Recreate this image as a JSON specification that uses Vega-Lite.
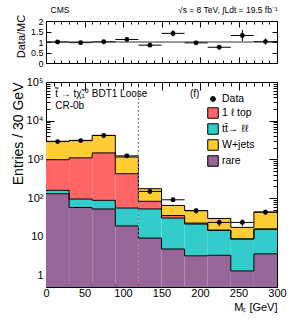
{
 "$schema": "https://vega.github.io/schema/vega-lite/v6.json",
 "background": "white",
 "padding": {"left": 10, "top": 5, "right": 5, "bottom": 5},
 "spacing": 6,
 "config": {
  "font": "Liberation Sans",
  "view": {"stroke": "black", "strokeWidth": 1},
  "axis": {"grid": false, "domain": false, "labelFont": "Liberation Sans", "titleFont": "Liberation Sans", "titleFontWeight": "normal", "labelColor": "black", "titleColor": "black", "tickColor": "black", "tickWidth": 1, "labelOverlap": false, "labelFlush": false},
  "text": {"font": "Liberation Sans", "color": "black"}
 },
 "datasets": {
  "one": [{}],
  "ratio": [
   {"start": 0, "end": 30, "center": 15, "ratio": 1.0, "low": 0.98, "high": 1.02},
   {"start": 30, "end": 60, "center": 45, "ratio": 0.97, "low": 0.95, "high": 0.99},
   {"start": 60, "end": 90, "center": 75, "ratio": 1.01, "low": 0.99, "high": 1.03},
   {"start": 90, "end": 120, "center": 105, "ratio": 1.12, "low": 1.08, "high": 1.16},
   {"start": 120, "end": 150, "center": 135, "ratio": 0.85, "low": 0.78, "high": 0.92},
   {"start": 150, "end": 180, "center": 165, "ratio": 1.41, "low": 1.26, "high": 1.56},
   {"start": 180, "end": 210, "center": 195, "ratio": 0.96, "low": 0.86, "high": 1.06},
   {"start": 210, "end": 240, "center": 225, "ratio": 0.75, "low": 0.65, "high": 0.85},
   {"start": 240, "end": 270, "center": 255, "ratio": 1.31, "low": 1.04, "high": 1.58},
   {"start": 270, "end": 300, "center": 285, "ratio": 1.02, "low": 0.87, "high": 1.17}
  ],
  "obs": [
   {"start": 0, "end": 30, "center": 15, "events": 2880, "low": 2826, "high": 2934},
   {"start": 30, "end": 60, "center": 45, "events": 3050, "low": 2995, "high": 3105},
   {"start": 60, "end": 90, "center": 75, "events": 4150, "low": 4086, "high": 4214},
   {"start": 90, "end": 120, "center": 105, "events": 1230, "low": 1195, "high": 1265},
   {"start": 120, "end": 150, "center": 135, "events": 148, "low": 136, "high": 160},
   {"start": 150, "end": 180, "center": 165, "events": 90, "low": 80.5, "high": 99.5},
   {"start": 180, "end": 210, "center": 195, "events": 47, "low": 40, "high": 54},
   {"start": 210, "end": 240, "center": 225, "events": 23.4, "low": 18.6, "high": 28.2},
   {"start": 240, "end": 270, "center": 255, "events": 23.4, "low": 18.6, "high": 28.2},
   {"start": 270, "end": 300, "center": 285, "events": 43, "low": 36.5, "high": 49.5}
  ],
  "mc": [
   {"process": "rare", "start": 0, "end": 30, "events": 129},
   {"process": "rare", "start": 30, "end": 60, "events": 57},
   {"process": "rare", "start": 60, "end": 90, "events": 52},
   {"process": "rare", "start": 90, "end": 120, "events": 19},
   {"process": "rare", "start": 120, "end": 150, "events": 9.2},
   {"process": "rare", "start": 150, "end": 180, "events": 4.8},
   {"process": "rare", "start": 180, "end": 210, "events": 3.2},
   {"process": "rare", "start": 210, "end": 240, "events": 3.3},
   {"process": "rare", "start": 240, "end": 270, "events": 1.3},
   {"process": "rare", "start": 270, "end": 300, "events": 3.6},
   {"process": "tt̄→ ℓℓ", "start": 0, "end": 30, "events": 29},
   {"process": "tt̄→ ℓℓ", "start": 30, "end": 60, "events": 37},
   {"process": "tt̄→ ℓℓ", "start": 60, "end": 90, "events": 35},
   {"process": "tt̄→ ℓℓ", "start": 90, "end": 120, "events": 36},
   {"process": "tt̄→ ℓℓ", "start": 120, "end": 150, "events": 43},
   {"process": "tt̄→ ℓℓ", "start": 150, "end": 180, "events": 25.5},
   {"process": "tt̄→ ℓℓ", "start": 180, "end": 210, "events": 18},
   {"process": "tt̄→ ℓℓ", "start": 210, "end": 240, "events": 11.2},
   {"process": "tt̄→ ℓℓ", "start": 240, "end": 270, "events": 7.4},
   {"process": "tt̄→ ℓℓ", "start": 270, "end": 300, "events": 12},
   {"process": "1 ℓ top", "start": 0, "end": 30, "events": 820},
   {"process": "1 ℓ top", "start": 30, "end": 60, "events": 1000},
   {"process": "1 ℓ top", "start": 60, "end": 90, "events": 1380},
   {"process": "1 ℓ top", "start": 90, "end": 120, "events": 370},
   {"process": "1 ℓ top", "start": 120, "end": 150, "events": 30},
   {"process": "1 ℓ top", "start": 150, "end": 180, "events": 5},
   {"process": "1 ℓ top", "start": 180, "end": 210, "events": 1.3},
   {"process": "1 ℓ top", "start": 210, "end": 240, "events": 0.3},
   {"process": "1 ℓ top", "start": 240, "end": 270, "events": 0.1},
   {"process": "1 ℓ top", "start": 270, "end": 300, "events": 0.2},
   {"process": "W+jets", "start": 0, "end": 30, "events": 1950},
   {"process": "W+jets", "start": 30, "end": 60, "events": 2000},
   {"process": "W+jets", "start": 60, "end": 90, "events": 2700},
   {"process": "W+jets", "start": 90, "end": 120, "events": 725},
   {"process": "W+jets", "start": 120, "end": 150, "events": 92},
   {"process": "W+jets", "start": 150, "end": 180, "events": 29},
   {"process": "W+jets", "start": 180, "end": 210, "events": 25},
   {"process": "W+jets", "start": 210, "end": 240, "events": 14.8},
   {"process": "W+jets", "start": 240, "end": 270, "events": 8.6},
   {"process": "W+jets", "start": 270, "end": 300, "events": 27.7}
  ]
 },
 "vconcat": [
  {
   "width": 231,
   "height": 42,
   "layer": [
    {
     "data": {"name": "ratio"},
     "mark": {"type": "rule", "color": "black", "strokeWidth": 1},
     "encoding": {
      "x": {"field": "start", "type": "quantitative", "scale": {"domain": [0, 300], "nice": false},
       "axis": {"orient": "bottom", "values": [0,10,20,30,40,50,60,70,80,90,100,110,120,130,140,150,160,170,180,190,200,210,220,230,240,250,260,270,280,290,300], "labels": false, "title": null, "tickSize": {"condition": {"test": "datum.value % 50 == 0", "value": -6}, "value": -3}}},
      "x2": {"field": "end"},
      "y": {"field": "ratio", "type": "quantitative", "scale": {"domain": [0, 2], "nice": false},
       "axis": {"orient": "left", "values": [0, 0.5, 1, 1.5, 2], "format": "~g", "labelFontSize": 9, "labelPadding": 8, "tickSize": -5, "title": "Data/MC", "titleFontSize": 11, "titleX": -20, "titleY": 15}}
     }
    },
    {
     "data": {"name": "ratio"},
     "mark": {"type": "rule", "color": "black", "strokeWidth": 1},
     "encoding": {
      "x": {"field": "center", "type": "quantitative",
       "axis": {"orient": "top", "values": [0,10,20,30,40,50,60,70,80,90,100,110,120,130,140,150,160,170,180,190,200,210,220,230,240,250,260,270,280,290,300], "labels": false, "title": null, "tickSize": {"condition": {"test": "datum.value % 50 == 0", "value": -6}, "value": -3}}},
      "y": {"field": "low", "type": "quantitative",
       "axis": {"orient": "right", "values": [0, 0.5, 1, 1.5, 2], "labels": false, "title": null, "tickSize": -5}},
      "y2": {"field": "high"}
     }
    },
    {
     "data": {"name": "one"},
     "mark": {"type": "rule", "color": "#333333", "strokeWidth": 1},
     "encoding": {"y": {"datum": 1, "type": "quantitative", "axis": null}}
    },
    {
     "data": {"name": "ratio"},
     "mark": {"type": "point", "shape": "circle", "filled": true, "color": "black", "size": 24, "opacity": 1},
     "encoding": {
      "x": {"field": "center", "type": "quantitative", "axis": null},
      "y": {"field": "ratio", "type": "quantitative", "axis": null}
     }
    },
    {
     "data": {"name": "one"},
     "mark": {"type": "text", "text": "CMS", "align": "left", "baseline": "middle", "fontSize": 8.5, "dy": -11},
     "encoding": {
      "x": {"datum": 6, "type": "quantitative", "axis": null},
      "y": {"datum": 2, "type": "quantitative", "axis": null}
     }
    },
    {
     "data": {"name": "one"},
     "mark": {"type": "text", "text": "√s = 8 TeV,  ∫Ldt = 19.5 fb⁻¹", "align": "right", "baseline": "middle", "fontSize": 8.5, "dy": -11},
     "encoding": {
      "x": {"datum": 301, "type": "quantitative", "axis": null},
      "y": {"datum": 2, "type": "quantitative", "axis": null}
     }
    }
   ],
   "resolve": {"axis": {"x": "independent", "y": "independent"}}
  },
  {
   "width": 231,
   "height": 205,
   "layer": [
    {
     "data": {"name": "mc"},
     "transform": [
      {"calculate": "indexof(['rare', 'tt̄→ ℓℓ', '1 ℓ top', 'W+jets'], datum.process)", "as": "stackOrder"},
      {"stack": "events", "groupby": ["start"], "sort": [{"field": "stackOrder", "order": "ascending"}], "as": ["lower", "upper"]}
     ],
     "mark": {"type": "rect", "strokeWidth": 0},
     "encoding": {
      "x": {"field": "start", "type": "quantitative", "scale": {"domain": [0, 300], "nice": false},
       "axis": {"orient": "bottom", "values": [0,10,20,30,40,50,60,70,80,90,100,110,120,130,140,150,160,170,180,190,200,210,220,230,240,250,260,270,280,290,300], "labelExpr": "datum.value % 50 == 0 ? datum.label : ''", "labelFontSize": 11, "labelPadding": 8, "tickSize": {"condition": {"test": "datum.value % 50 == 0", "value": -8}, "value": -4}, "title": "Mₜ [GeV]", "titleAnchor": "end", "titleFontSize": 11, "titlePadding": -1}},
      "x2": {"field": "end"},
      "y": {"field": "upper", "type": "quantitative", "scale": {"type": "log", "domain": [0.5, 100000], "nice": false, "clamp": true},
       "axis": {"orient": "left", "values": [0.6,0.7,0.8,0.9,1,2,3,4,5,6,7,8,9,10,20,30,40,50,60,70,80,90,100,200,300,400,500,600,700,800,900,1000,2000,3000,4000,5000,6000,7000,8000,9000,10000,20000,30000,40000,50000,60000,70000,80000,90000,100000], "labelExpr": "datum.value == 1 ? '1' : datum.value == 10 ? '10' : datum.value == 100 ? '10²' : datum.value == 1000 ? '10³' : datum.value == 10000 ? '10⁴' : datum.value == 100000 ? '10⁵' : ''", "labelFontSize": 11, "labelPadding": 11, "tickSize": {"condition": {"test": "indexof([1,10,100,1000,10000,100000], datum.value) >= 0", "value": -8}, "value": -4}, "title": "Entries / 30 GeV", "titleFontSize": 14, "titleAnchor": "end", "titleX": -21}},
      "y2": {"field": "lower"},
      "color": {"field": "process", "type": "nominal",
       "scale": {"domain": ["Data", "1 ℓ top", "tt̄→ ℓℓ", "W+jets", "rare"], "range": ["#000000", "#FF6666", "#33CCCC", "#FFCC33", "#996699"]},
       "legend": {"orient": "none", "legendX": 161, "legendY": 72, "title": null, "symbolType": "square", "symbolSize": 110, "symbolStrokeColor": "black", "symbolStrokeWidth": 1, "symbolOpacity": 1, "labelFont": "Liberation Sans", "labelFontSize": 10.5, "labelColor": "black", "rowPadding": 0, "labelOffset": 3, "padding": 0,
        "encode": {"symbols": {"update": {"shape": {"signal": "datum.value == 'Data' ? 'circle' : 'square'"}, "size": {"signal": "datum.value == 'Data' ? 24 : 110"}}}}}
      }
     }
    },
    {
     "data": {"name": "obs"},
     "mark": {"type": "rule", "color": "black", "strokeWidth": 1},
     "encoding": {
      "x": {"field": "start", "type": "quantitative",
       "axis": {"orient": "top", "values": [0,10,20,30,40,50,60,70,80,90,100,110,120,130,140,150,160,170,180,190,200,210,220,230,240,250,260,270,280,290,300], "labels": false, "title": null, "tickSize": {"condition": {"test": "datum.value % 50 == 0", "value": -8}, "value": -4}}},
      "x2": {"field": "end"},
      "y": {"field": "events", "type": "quantitative",
       "axis": {"orient": "right", "values": [0.6,0.7,0.8,0.9,1,2,3,4,5,6,7,8,9,10,20,30,40,50,60,70,80,90,100,200,300,400,500,600,700,800,900,1000,2000,3000,4000,5000,6000,7000,8000,9000,10000,20000,30000,40000,50000,60000,70000,80000,90000,100000], "labels": false, "title": null, "tickSize": {"condition": {"test": "indexof([1,10,100,1000,10000,100000], datum.value) >= 0", "value": -8}, "value": -4}}}
     }
    },
    {
     "data": {"name": "mc"},
     "transform": [
      {"calculate": "indexof(['rare', 'tt̄→ ℓℓ', '1 ℓ top', 'W+jets'], datum.process)", "as": "stackOrder"},
      {"stack": "events", "groupby": ["start"], "sort": [{"field": "stackOrder", "order": "ascending"}], "as": ["lower", "upper"]}
     ],
     "mark": {"type": "rule", "color": "black", "strokeWidth": 1},
     "encoding": {
      "x": {"field": "start", "type": "quantitative", "axis": null},
      "x2": {"field": "end"},
      "y": {"field": "upper", "type": "quantitative", "axis": null}
     }
    },
    {
     "data": {"name": "mc"},
     "transform": [
      {"calculate": "indexof(['rare', 'tt̄→ ℓℓ', '1 ℓ top', 'W+jets'], datum.process)", "as": "stackOrder"},
      {"stack": "events", "groupby": ["start"], "sort": [{"field": "stackOrder", "order": "ascending"}], "as": ["lower", "upper"]},
      {"window": [{"op": "lag", "field": "upper", "as": "prevUpper"}], "groupby": ["process"], "sort": [{"field": "start", "order": "ascending"}]},
      {"filter": "isValid(datum.prevUpper)"}
     ],
     "mark": {"type": "rule", "color": "black", "strokeWidth": 1},
     "encoding": {
      "x": {"field": "start", "type": "quantitative", "axis": null},
      "y": {"field": "prevUpper", "type": "quantitative", "axis": null},
      "y2": {"field": "upper"}
     }
    },
    {
     "data": {"name": "one"},
     "mark": {"type": "rule", "color": "#777777", "strokeWidth": 1, "strokeDash": [2, 2]},
     "encoding": {"x": {"datum": 120, "type": "quantitative", "axis": null}}
    },
    {
     "data": {"name": "obs"},
     "mark": {"type": "rule", "color": "black", "strokeWidth": 1},
     "encoding": {
      "x": {"field": "center", "type": "quantitative", "axis": null},
      "y": {"field": "low", "type": "quantitative", "axis": null},
      "y2": {"field": "high"}
     }
    },
    {
     "data": {"name": "obs"},
     "mark": {"type": "point", "shape": "circle", "filled": true, "color": "black", "size": 24, "opacity": 1},
     "encoding": {
      "x": {"field": "center", "type": "quantitative", "axis": null},
      "y": {"field": "events", "type": "quantitative", "axis": null}
     }
    },
    {
     "data": {"name": "one"},
     "mark": {"type": "text", "text": "t̃ → tχ̃₁⁰ BDT1 Loose", "align": "left", "baseline": "middle", "fontSize": 10},
     "encoding": {
      "x": {"datum": 12, "type": "quantitative", "axis": null},
      "y": {"datum": 50000, "type": "quantitative", "axis": null}
     }
    },
    {
     "data": {"name": "one"},
     "mark": {"type": "text", "text": "CR-0b", "align": "left", "baseline": "middle", "fontSize": 10},
     "encoding": {
      "x": {"datum": 12, "type": "quantitative", "axis": null},
      "y": {"datum": 24000, "type": "quantitative", "axis": null}
     }
    },
    {
     "data": {"name": "one"},
     "mark": {"type": "text", "text": "(f)", "align": "left", "baseline": "middle", "fontSize": 10},
     "encoding": {
      "x": {"datum": 187, "type": "quantitative", "axis": null},
      "y": {"datum": 48000, "type": "quantitative", "axis": null}
     }
    }
   ],
   "resolve": {"axis": {"x": "independent", "y": "independent"}}
  }
 ]
}
